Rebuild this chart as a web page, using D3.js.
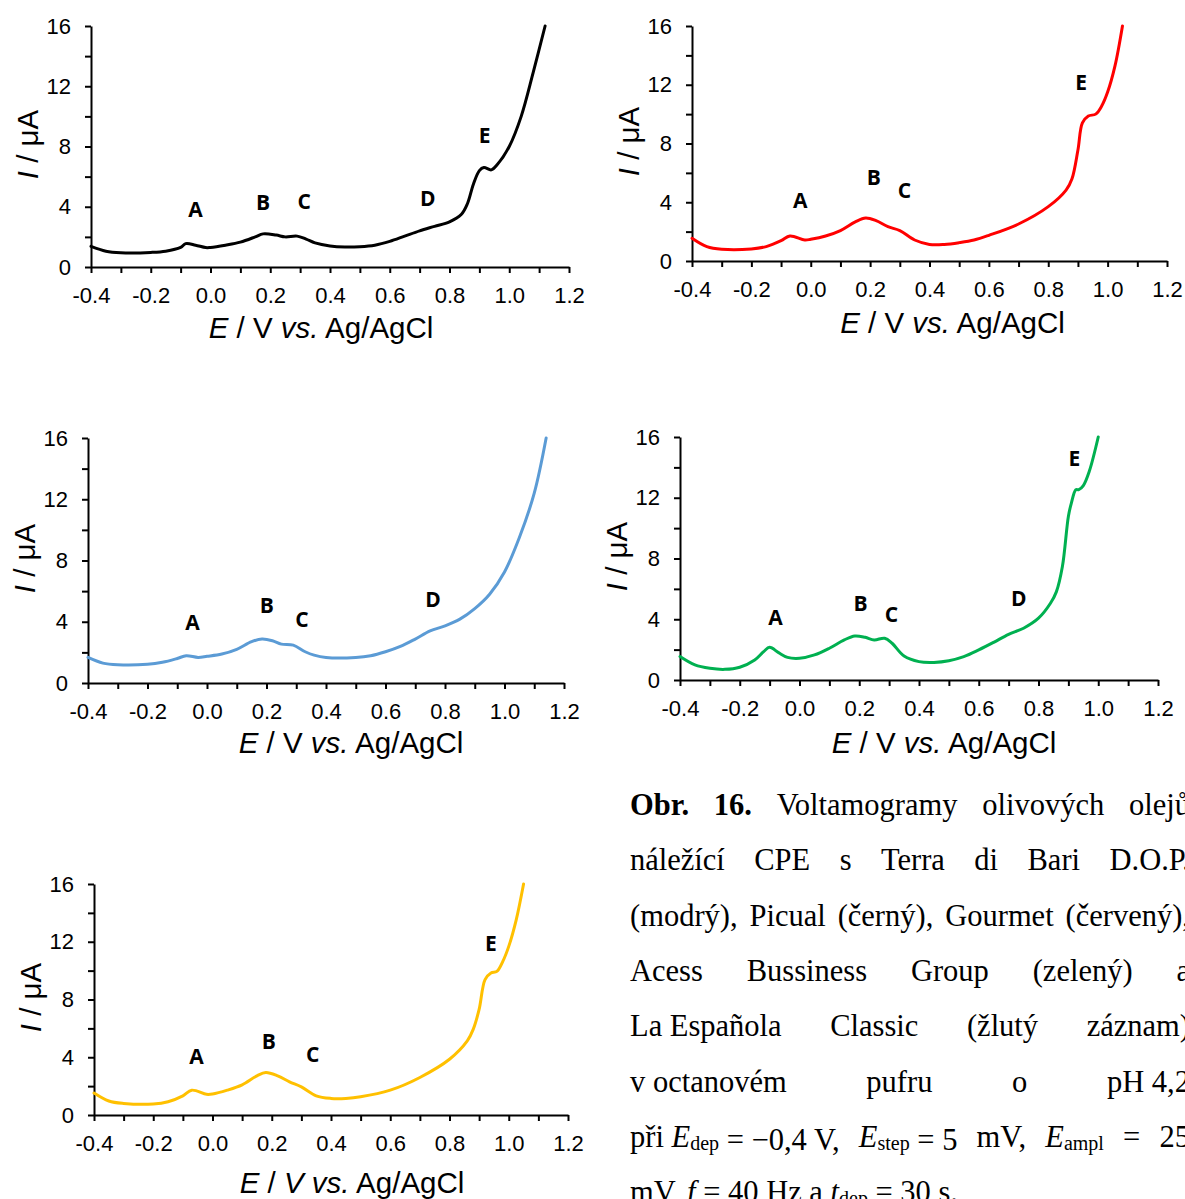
<!DOCTYPE html>
<html><head><meta charset="utf-8">
<script src="https://cdn.jsdelivr.net/npm/d3@7"></script>
<style>
html,body{margin:0;padding:0;background:#fff;}
svg{display:block;}
</style>
</head><body>
<svg id="c" width="1185" height="1199"></svg>
<script>
// ---------------- DATA ----------------
const xTickValues = [-0.4,-0.3,-0.2,-0.1,0.0,0.1,0.2,0.3,0.4,0.5,0.6,0.7,0.8,0.9,1.0,1.1,1.2];
const xTickLabels = ["-0.4","-0.2","0.0","0.2","0.4","0.6","0.8","1.0","1.2"];
const yTickValues = [0,2,4,6,8,10,12,14,16];
const yTickLabels = ["0","4","8","12","16"];

// Picual (black)
const blackE = [-0.4,-0.35,-0.3,-0.2,-0.15,-0.1,-0.083,-0.05,-0.016,0.0,0.05,0.1,0.15,0.176,0.22,0.25,0.29,0.32,0.35,0.4,0.45,0.5,0.55,0.6,0.65,0.7,0.75,0.8,0.84,0.86,0.88,0.9,0.915,0.94,0.96,1.0,1.04,1.08,1.12];
const blackI = [1.37,1.05,0.95,0.97,1.05,1.3,1.55,1.45,1.29,1.3,1.45,1.65,2.0,2.2,2.12,2.0,2.05,1.85,1.6,1.4,1.33,1.35,1.45,1.7,2.05,2.4,2.7,3.0,3.5,4.2,5.5,6.4,6.6,6.45,6.8,8.0,10.0,12.9,16.0];
// Gourmet (red)
const redE = [-0.4,-0.35,-0.3,-0.2,-0.15,-0.1,-0.07,-0.02,0.0,0.05,0.1,0.15,0.185,0.22,0.26,0.3,0.35,0.4,0.45,0.5,0.55,0.6,0.7,0.8,0.86,0.88,0.9,0.915,0.935,0.96,0.98,1.0,1.025,1.05];
const redI = [1.55,0.98,0.8,0.82,0.98,1.38,1.7,1.43,1.48,1.7,2.07,2.66,2.93,2.75,2.34,2.07,1.43,1.13,1.13,1.25,1.43,1.75,2.52,3.7,4.83,5.6,7.56,9.4,9.87,10.0,10.55,11.5,13.3,16.0];
// Terra di Bari D.O.P. (blue)
const blueE = [-0.4,-0.35,-0.3,-0.2,-0.15,-0.1,-0.07,-0.03,0.0,0.05,0.1,0.15,0.185,0.22,0.25,0.29,0.33,0.36,0.4,0.5,0.55,0.6,0.65,0.7,0.75,0.8,0.85,0.9,0.95,1.0,1.05,1.1,1.14];
const blueI = [1.67,1.3,1.19,1.22,1.35,1.6,1.78,1.67,1.74,1.89,2.2,2.7,2.87,2.76,2.54,2.47,2.04,1.82,1.67,1.67,1.78,2.04,2.39,2.87,3.4,3.73,4.17,4.86,5.8,7.25,9.5,12.4,16.0];
// Acess Bussiness Group (green)
const greenE = [-0.4,-0.35,-0.3,-0.25,-0.2,-0.15,-0.12,-0.1,-0.07,-0.04,0.0,0.05,0.1,0.15,0.185,0.22,0.25,0.285,0.31,0.35,0.4,0.45,0.5,0.55,0.6,0.65,0.7,0.75,0.8,0.84,0.86,0.88,0.9,0.91,0.925,0.935,0.95,0.97,1.0];
const greenI = [1.54,0.99,0.77,0.7,0.84,1.32,1.87,2.15,1.8,1.49,1.43,1.65,2.09,2.64,2.9,2.81,2.64,2.75,2.42,1.58,1.21,1.16,1.27,1.54,1.98,2.48,3.01,3.41,4.07,5.05,5.82,7.47,10.77,11.65,12.53,12.53,12.8,13.74,16.0];
// La Española Classic (yellow)
const yellowE = [-0.4,-0.35,-0.3,-0.2,-0.15,-0.1,-0.07,-0.02,0.0,0.05,0.1,0.15,0.18,0.22,0.26,0.3,0.35,0.4,0.45,0.5,0.6,0.7,0.8,0.86,0.88,0.9,0.92,0.94,0.96,0.98,1.0,1.025,1.05];
const yellowI = [1.52,0.97,0.8,0.76,0.92,1.33,1.72,1.43,1.45,1.72,2.09,2.71,2.94,2.71,2.3,1.95,1.33,1.15,1.15,1.26,1.72,2.6,3.86,5.13,5.93,7.31,9.38,9.84,9.95,10.64,11.68,13.5,16.0];

// peak labels: [letter, E, I]
const blackPeaks  = [["A",-0.05,3.85],["B",0.176,4.3],["C",0.314,4.4],["D",0.727,4.6],["E",0.918,8.75]];
const redPeaks    = [["A",-0.035,4.15],["B",0.212,5.74],["C",0.316,4.83],["E",0.911,12.2]];
const bluePeaks   = [["A",-0.049,4.0],["B",0.201,5.08],["C",0.319,4.17],["D",0.76,5.47]];
const greenPeaks  = [["A",-0.08,4.13],["B",0.204,5.1],["C",0.308,4.35],["D",0.734,5.38],["E",0.92,14.6]];
const yellowPeaks = [["A",-0.054,4.1],["B",0.19,5.13],["C",0.338,4.2],["E",0.94,11.9]];

// ---------------- LAYOUT ----------------
const panels = [
  {E:blackE, I:blackI, peaks:blackPeaks, color:"#000000", x0:91, x1:569, y0:267, y1:26, titleY:338, titleDx:-9, italicV:false},
  {E:redE, I:redI, peaks:redPeaks, color:"#ff0000", x0:692, x1:1167, y0:261, y1:26, titleY:333, titleDx:23, italicV:false},
  {E:blueE, I:blueI, peaks:bluePeaks, color:"#5b9bd5", x0:88, x1:564, y0:683, y1:438, titleY:753, titleDx:25, italicV:false},
  {E:greenE, I:greenI, peaks:greenPeaks, color:"#00b050", x0:680, x1:1158, y0:680, y1:437, titleY:753, titleDx:25, italicV:false},
  {E:yellowE, I:yellowI, peaks:yellowPeaks, color:"#ffc000", x0:94, x1:568, y0:1115, y1:884, titleY:1193, titleDx:21, italicV:true}
];

const svg = d3.select("#c");
const sans = "'Liberation Sans', Arial, sans-serif";

panels.forEach(p => {
  const x = d3.scaleLinear().domain([-0.4,1.2]).range([p.x0,p.x1]);
  const y = d3.scaleLinear().domain([0,16]).range([p.y0,p.y1]);
  const g = svg.append("g");

  const xAxis = d3.axisBottom(x).tickValues(xTickValues).tickSize(6).tickSizeOuter(0)
    .tickFormat(d => { const s = d.toFixed(1); return xTickLabels.includes(s) ? s : ""; });
  const gx = g.append("g").attr("transform",`translate(0,${p.y0})`).call(xAxis);
  gx.select(".domain").attr("stroke","#000").attr("stroke-width",2);
  gx.selectAll(".tick line").attr("stroke","#000").attr("stroke-width",2);
  gx.selectAll(".tick text").attr("font-family",sans).attr("font-size",22).attr("fill","#000")
    .attr("y",20).attr("dy","0.71em");

  const yAxis = d3.axisLeft(y).tickValues(yTickValues).tickSize(6).tickSizeOuter(0)
    .tickFormat(d => yTickLabels.includes(String(d)) ? String(d) : "");
  const gy = g.append("g").attr("transform",`translate(${p.x0},0)`).call(yAxis);
  gy.select(".domain").attr("stroke","#000").attr("stroke-width",2);
  gy.selectAll(".tick line").attr("stroke","#000").attr("stroke-width",2);
  gy.selectAll(".tick text").attr("font-family",sans).attr("font-size",22).attr("fill","#000")
    .attr("x",-20);

  const data = p.E.map((e,i)=>[e,p.I[i]]);
  g.append("path").datum(data)
    .attr("fill","none").attr("stroke",p.color).attr("stroke-width",3)
    .attr("stroke-linejoin","round").attr("stroke-linecap","round")
    .attr("d", d3.line().x(d=>x(d[0])).y(d=>y(d[1])).curve(d3.curveCatmullRom.alpha(0.5)));

  g.selectAll("text.peak").data(p.peaks).enter().append("text").attr("class","peak")
    .attr("x",d=>x(d[1])).attr("y",d=>y(d[2]))
    .attr("text-anchor","middle").attr("dominant-baseline","central")
    .attr("font-family","'Open Sans', 'Noto Sans', sans-serif").attr("font-weight","bold")
    .attr("font-size",21).attr("fill","#000").text(d=>d[0]);

  // x title
  const xt = g.append("text").attr("x",(p.x0+p.x1)/2 + p.titleDx).attr("y",p.titleY)
    .attr("text-anchor","middle").attr("font-family",sans).attr("font-size",29.5).attr("fill","#000");
  xt.append("tspan").attr("font-style","italic").text("E");
  xt.append("tspan").text(" / ");
  xt.append("tspan").attr("font-style", p.italicV ? "italic":"normal").text("V");
  xt.append("tspan").text(" ");
  xt.append("tspan").attr("font-style","italic").text("vs.");
  xt.append("tspan").text(" Ag/AgCl");

  // y title
  const yc = (p.y0+p.y1)/2 - 2;
  const yt = g.append("text").attr("transform",`translate(${p.x0-53},${yc}) rotate(-90)`)
    .attr("text-anchor","middle").attr("font-family",sans).attr("font-size",29.5).attr("fill","#000");
  yt.append("tspan").attr("font-style","italic").text("I");
  yt.append("tspan").text(" / μA");
});

// ---------------- CAPTION ----------------
const serif = "'Liberation Serif', 'Times New Roman', serif";
const capL = 630, capR = 1190, capTop = 815, capLH = 55.3, capFS = 30.5;
const captionLines = [
  {j:true, w:[[["Obr.","b"]],[["16.","b"]],[["Voltamogramy",""]],[["olivových",""]],[["olejů",""]]]},
  {j:true, w:[[["náležící",""]],[["CPE",""]],[["s",""]],[["Terra",""]],[["di",""]],[["Bari",""]],[["D.O.P.",""]]]},
  {j:true, w:[[["(modrý),",""]],[["Picual",""]],[["(černý),",""]],[["Gourmet",""]],[["(červený),",""]]]},
  {j:true, w:[[["Acess",""]],[["Bussiness",""]],[["Group",""]],[["(zelený)",""]],[["a",""]]]},
  {j:true, w:[[["La Española",""]],[["Classic",""]],[["(žlutý",""]],[["záznam)",""]]]},
  {j:true, w:[[["v octanovém",""]],[["pufru",""]],[["o",""]],[["pH 4,2",""]]]},
  {j:true, w:[[["při ",""],["E","i"],["dep","s"],[" = −0,4 V,",""]],[["E","i"],["step","s"],[" = 5",""]],[["mV,",""]],[["E","i"],["ampl","s"]],[["=",""]],[["25",""]]]},
  {j:false, w:[[["mV,",""]],[["f","i"]],[["=",""]],[["40",""]],[["Hz",""]],[["a",""]],[["t","i"],["dep","s"]],[["=",""]],[["30",""]],[["s.",""]]]}
];
captionLines.forEach((ln,li) => {
  const yb = capTop + li*capLH;
  const nodes = ln.w.map(word => {
    const t = svg.append("text").attr("y",yb).attr("font-family",serif).attr("font-size",capFS).attr("fill","#000");
    word.forEach(seg => {
      const ts = t.append("tspan").text(seg[0]);
      if (seg[1]==="b") ts.attr("font-weight","bold");
      if (seg[1]==="i") ts.attr("font-style","italic");
      if (seg[1]==="s") ts.attr("font-size",20).attr("dy",3);
    });
    return t;
  });
  const widths = nodes.map(n => n.node().getComputedTextLength());
  const total = d3.sum(widths);
  const space = capFS*0.25;
  let gap = ln.j ? (capR - capL - total)/(nodes.length-1) : space;
  if (gap < space*0.8) gap = space*0.8;
  let cx = capL;
  nodes.forEach((n,i) => { n.attr("x",cx); cx += widths[i] + gap; });
});
</script>
</body></html>
